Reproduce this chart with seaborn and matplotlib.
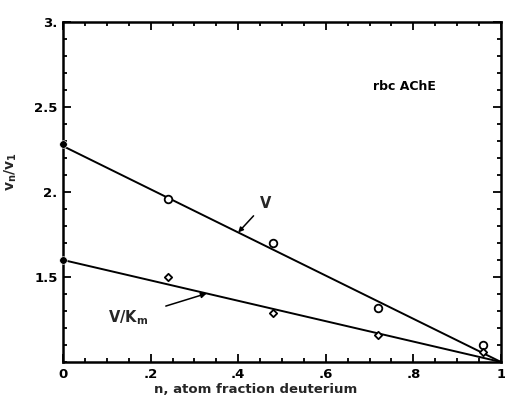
import numpy as np
import pandas as pd
import matplotlib
matplotlib.use("Agg")
import matplotlib.pyplot as plt
import seaborn as sns
from matplotlib.ticker import MultipleLocator, FixedLocator

sns.set_style("ticks")
plt.rcParams['font.family'] = ['DejaVu Sans']

# data
frac = [0.24, 0.48, 0.72, 0.96]
v_vals = [1.96, 1.70, 1.32, 1.10]
vkm_vals = [1.50, 1.29, 1.16, 1.06]
ref_x = [0.0]
v_ref = [2.28]
vkm_ref = [1.60]
fit_x = [0.0, 1.0]
v_fit = [2.27, 1.0]
vkm_fit = [1.60, 1.0]
y_ticks = [1.5, 2.0, 2.5, 3.0]
y_ticklabels = ["1.5", "2.", "2.5", "3."]
x_ticks = [0, 0.2, 0.4, 0.6, 0.8, 1.0]
x_ticklabels = ["0", ".2", ".4", ".6", ".8", "1"]

fig = plt.figure(figsize=(5.05, 3.98), dpi=100)
ax = fig.add_axes([0.1248, 0.0905, 0.8672, 0.8542])

fits = pd.DataFrame({"x": fit_x * 2, "y": v_fit + vkm_fit,
                     "s": ["V"] * 2 + ["V/Km"] * 2})
sns.lineplot(data=fits, x="x", y="y", units="s", estimator=None,
             color="black", lw=1.4, ax=ax, legend=False)

sns.scatterplot(x=frac, y=v_vals, marker="o", s=30, facecolor="white",
                edgecolor="black", linewidth=1.3, ax=ax, zorder=3)
sns.scatterplot(x=frac, y=vkm_vals, marker="D", s=14, facecolor="white",
                edgecolor="black", linewidth=1.3, ax=ax, zorder=3)
sns.scatterplot(x=ref_x * 2, y=v_ref + vkm_ref, marker="o", s=30,
                color="black", ax=ax, zorder=4, clip_on=False)

ax.set_xlim(0, 1.0)
ax.set_ylim(1.0, 3.0)
ax.xaxis.set_major_locator(FixedLocator(x_ticks))
ax.set_xticklabels(x_ticklabels)
ax.xaxis.set_minor_locator(MultipleLocator(0.05))
ax.yaxis.set_major_locator(FixedLocator(y_ticks))
ax.set_yticklabels(y_ticklabels)
ax.yaxis.set_minor_locator(MultipleLocator(0.1))

for sp in ax.spines.values():
    sp.set_visible(True)
    sp.set_linewidth(1.8)
    sp.set_color("black")

ax.tick_params(which="both", direction="in", top=True, right=True,
               colors="black", labelsize=9.5, width=1.3)
ax.tick_params(which="major", length=6, pad=4)
ax.tick_params(which="minor", length=3)
for lab in ax.get_xticklabels() + ax.get_yticklabels():
    lab.set_fontweight("bold")

ax.set_xlabel("n, atom fraction deuterium", fontsize=9.5, fontweight="bold")
ax.xaxis.set_label_coords(0.44, -0.062)
ax.set_ylabel(r"v$_\mathregular{n}$/v$_\mathregular{1}$", fontsize=10,
              fontweight="bold")
ax.yaxis.set_label_coords(-0.1, 0.56)

ax.text(0.78, 0.81, "rbc AChE", transform=ax.transAxes, fontsize=9,
        fontweight="bold", ha="center", va="center", color="black")

ax.annotate("V", xy=(0.40, 1.762), xytext=(0.462, 1.935),
            fontsize=10.5, fontweight="semibold", ha="center", va="center",
            arrowprops=dict(arrowstyle="-|>", color="black", lw=1.1,
                            shrinkA=3, shrinkB=0, mutation_scale=7))
ax.annotate(r"V/K$_\mathregular{m}$", xy=(0.328, 1.403),
            xytext=(0.148, 1.26), fontsize=10.5, fontweight="semibold",
            ha="center", va="center",
            arrowprops=dict(arrowstyle="-|>", color="black", lw=1.1,
                            shrinkA=11, shrinkB=0, mutation_scale=8))

fig.savefig("out.png", dpi=100)
